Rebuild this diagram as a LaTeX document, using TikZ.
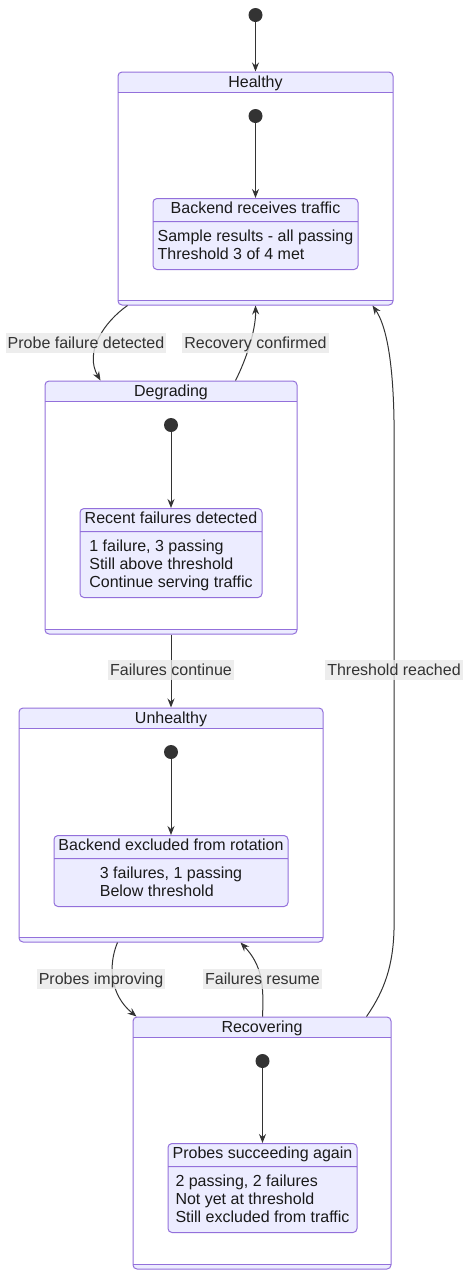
\documentclass[tikz,border=0pt]{standalone}
\usepackage{fontspec}
\setmainfont{Liberation Sans}
\usetikzlibrary{shapes.multipart,arrows.meta}

\definecolor{stateline}{HTML}{9370DB}
\definecolor{statefill}{HTML}{ECECFF}
\definecolor{edgegrey}{HTML}{333333}
\definecolor{labelgrey}{HTML}{E8E8E8}
\definecolor{textdark}{HTML}{1A1A1A}

\newcommand{\stlines}[1]{\begin{tabular}{@{}l@{}}\rule{0pt}{17pt}#1\rule[-8pt]{0pt}{0pt}\end{tabular}}

\begin{document}
\begin{tikzpicture}[x=1pt,y=-1pt,>={Stealth[length=9pt,width=7pt,inset=3pt]},
  font=\fontsize{16}{18}\selectfont,text=textdark,
  compbox/.style={draw=stateline,line width=1pt,fill=white,rounded corners=4pt,
    path picture={
      \fill[statefill,sharp corners] (path picture bounding box.north west) rectangle ([yshift=-20pt]path picture bounding box.north east);
      \fill[statefill,sharp corners] (path picture bounding box.south west) rectangle ([yshift=5pt]path picture bounding box.south east);
      \draw[stateline,sharp corners] ([yshift=-20pt]path picture bounding box.north west) -- ([yshift=-20pt]path picture bounding box.north east);
      \draw[stateline,sharp corners] ([yshift=5pt]path picture bounding box.south west) -- ([yshift=5pt]path picture bounding box.south east);
    },
    label={[anchor=center,yshift=-11.5pt]north:#1}},
  stbox/.style={rectangle split,rectangle split parts=2,draw=stateline,line width=1pt,
    fill=statefill,rounded corners=4pt,inner xsep=4pt,inner ysep=2pt,anchor=north},
  startdot/.style={circle,fill=edgegrey,minimum size=14pt,inner sep=0pt},
  elabel/.style={fill=labelgrey,fill opacity=0.8,text opacity=1,text=edgegrey,
    inner xsep=2pt,inner ysep=2pt,text height=13.5pt,text depth=2.5pt},
  trans/.style={->,draw=edgegrey,line width=1pt}]
  \useasboundingbox (0,0) rectangle (469,1278);

  % composite states
  \node[compbox=Healthy,minimum width=275pt,minimum height=233pt] (healthy) at (255.5,188.5) {};
  \node[compbox=Degrading,minimum width=252pt,minimum height=253pt] (degrading) at (171,507.5) {};
  \node[compbox=Unhealthy,minimum width=304pt,minimum height=234pt] (unhealthy) at (171,825) {};
  \node[compbox=Recovering,minimum width=258pt,minimum height=252pt] (recovering) at (262,1143) {};

  \node[startdot] (start) at (255.5,15) {};
  \draw[trans] (start) -- (healthy);

  % Healthy
  \node[startdot] (h-init) at (255.5,116) {};
  \node[stbox,minimum width=205pt] (receiving) at (255.5,198)
    {\strut Backend receives traffic
     \nodepart{two}\stlines{Sample results - all passing\\ Threshold 3 of 4 met}};
  \draw[trans] (h-init) -- (receiving);

  % Degrading
  \node[startdot] (d-init) at (171,425) {};
  \node[stbox,minimum width=182pt] (recentfail) at (171,508)
    {\strut Recent failures detected
     \nodepart{two}\stlines{1 failure, 3 passing\\ Still above threshold\\ Continue serving traffic}};
  \draw[trans] (d-init) -- (recentfail);

  % Unhealthy
  \node[startdot] (u-init) at (171,752) {};
  \node[stbox,minimum width=234pt] (excluded) at (171,835)
    {\strut Backend excluded from rotation
     \nodepart{two}\stlines{3 failures, 1 passing\\ Below threshold}};
  \draw[trans] (u-init) -- (excluded);

  % Recovering
  \node[startdot] (r-init) at (262.5,1061) {};
  \node[stbox,minimum width=189pt] (succeeding) at (262.5,1143)
    {\strut Probes succeeding again
     \nodepart{two}\stlines{2 passing, 2 failures\\ Not yet at threshold\\ Still excluded from traffic}};
  \draw[trans] (r-init) -- (succeeding);

  % transitions between the composite states
  \draw[trans] ([xshift=10pt]healthy.south west) .. controls (104,322) and (84,352) .. ([xshift=56pt]degrading.north west);
  \draw[trans] ([xshift=191pt]degrading.north west) .. controls (246,360) and (256,330) .. (healthy.south);
  \draw[trans] (degrading) -- (unhealthy);
  \draw[trans] ([xshift=99pt]unhealthy.south west) .. controls (108,965) and (110,995) .. ([xshift=4pt]recovering.north west);
  \draw[trans] ([xshift=130pt]recovering.north west) .. controls (264,985) and (262,965) .. ([xshift=-83pt]unhealthy.south east);
  \draw[trans] ([xshift=-25pt]recovering.north east) .. controls (385,990) and (393,965) .. (394,930)
    -- (394,420) .. controls (393,360) and (386,325) .. ([xshift=-21pt]healthy.south east);

  \node[elabel] (l-probefail) at (86,343) {Probe failure detected};
  \node[elabel] (l-recovered) at (255.5,343) {Recovery confirmed};
  \node[elabel] (l-continue) at (171,670) {Failures continue};
  \node[elabel] (l-threshold) at (394,670) {Threshold reached};
  \node[elabel] (l-improving) at (101,979) {Probes improving};
  \node[elabel] (l-resume) at (262.5,979) {Failures resume};
\end{tikzpicture}
\end{document}
